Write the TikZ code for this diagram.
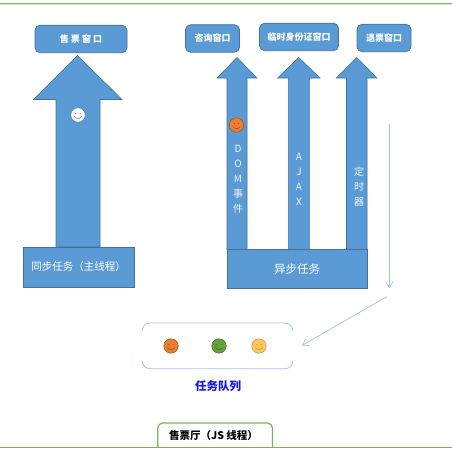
\documentclass[tikz,border=0pt]{standalone}
\usepackage{fontspec}
\setmainfont{Noto Sans CJK SC}
\usepackage{xcolor}
\usetikzlibrary{arrows.meta,positioning,calc}
\definecolor{accent}{RGB}{91,155,213}
\definecolor{accentdk}{RGB}{65,113,156}
\definecolor{linelt}{RGB}{157,195,230}
\definecolor{hallgreen}{RGB}{125,178,90}
\definecolor{hallgreenlt}{RGB}{214,232,200}
\definecolor{facered}{RGB}{237,125,49}
\definecolor{facegreen}{RGB}{102,160,60}
\definecolor{faceyel}{RGB}{255,200,90}
\definecolor{queueblue}{RGB}{20,20,240}
\tikzset{
  win/.style={draw=accentdk,fill=accent,rounded corners=5pt,align=center,text=white,
              font=\fontsize{9}{9}\selectfont\bfseries,inner sep=0,line width=.7pt},
  taskbox/.style={draw=accentdk,fill=accent,align=center,text=white,inner sep=0,line width=.8pt},
  blockarr/.style={draw=accentdk,fill=accent,line width=.6pt,line join=miter},
  vlabel/.style={align=center,text=white!90!accent,inner sep=0,
                 font=\fontsize{10}{15}\selectfont},
  thinarr/.style={-{Straight Barb[length=2mm,width=2.6mm]},draw=linelt,line width=.7pt},
  queueline/.style={draw=linelt,line width=.7pt},
  hallline/.style={draw=hallgreen,line width=1.2pt},
}
% name, x, y, fill, outline and features
\newcommand{\smiley}[5]{
  \node[circle,draw=#5,fill=#4,minimum size=14.5pt,inner sep=0,line width=.4pt] (#1) at (#2,#3) {};
  \fill[#5] ($(#1)+(-2.2,-1.6)$) circle (.6) ($(#1)+(2.2,-1.6)$) circle (.6);
  \draw[#5,line width=.4pt] ($(#1)+(-3.8,1.4)$) .. controls ($(#1)+(-1.5,4.4)$) and ($(#1)+(1.5,4.4)$) .. ($(#1)+(3.8,1.4)$);
}
\begin{document}
\begin{tikzpicture}[x=1pt,y=-1pt]
  \useasboundingbox (0,0) rectangle (452,452);

  % ---------------- hall lines ----------------
  \draw[draw=hallgreenlt,line width=1pt] (0,5) -- (452,5);
  \draw[hallline] (0,3.8) -- (452,3.8);

  % ---------------- block arrows ----------------
  \foreach \tx/\ty/\hl/\hr/\hy/\sl/\sr/\by in {
    77.5/55.5/33.5/122/99.5/56/100/247,
    237/57.5/217/257/78/227/247/249.5,
    298.7/57.5/277.7/320/78/288.3/309.3/249.5,
    356.7/57.5/336.3/377/78/346.5/367/249.5}
    \draw[blockarr] (\tx,\ty) -- (\hr,\hy) -- (\sr,\hy) -- (\sr,\by)
      -- (\sl,\by) -- (\sl,\hy) -- (\hl,\hy) -- cycle;

  % ---------------- windows ----------------
  \node[win,minimum width=92pt,minimum height=27.5pt] (ticketwin) at (81,39) {售 票 窗 口};
  \node[win,minimum width=54pt,minimum height=27.5pt] (askwin) at (212.5,38.5) {咨询窗口};
  \node[win,minimum width=79pt,minimum height=27.5pt] (idwin) at (299,37) {临时身份证窗口};
  \node[win,minimum width=54pt,minimum height=27.5pt] (refundwin) at (384,38) {退票窗口};

  % ---------------- tasks ----------------
  \node[taskbox,minimum width=111pt,minimum height=40pt,font=\fontsize{10.5}{10.5}\selectfont] (synctask) at (78.5,267) {同步任务（主线程）};
  \node[taskbox,minimum width=140pt,minimum height=39.5pt,font=\fontsize{11.5}{11.5}\selectfont] (asynctask) at (297,269) {异步任务};

  \node[vlabel,anchor=north] (domlbl) at (238,145) {D\\O\\M\\事\\件};
  \node[vlabel,anchor=north] (ajaxlbl) at (299,153) {A\\J\\A\\X};
  \node[vlabel,anchor=north] (timerlbl) at (359,167) {定\\时\\器};

  \smiley{mainface}{78}{115}{white}{accentdk}
  \smiley{domface}{236.5}{125}{facered}{facered!60!black}

  % ---------------- queue ----------------
  \draw[queueline,rounded corners=8pt] (142,331) -- (142,323) -- (293,323) -- (293,331);
  \draw[queueline,rounded corners=8pt] (142,361) -- (142,368.7) -- (293,368.7) -- (293,361);
  \smiley{qface1}{171}{346}{facered}{facered!60!black}
  \smiley{qface2}{219}{346}{facegreen}{facegreen!60!black}
  \smiley{qface3}{259}{346}{faceyel}{faceyel!70!black}
  \node[font=\fontsize{11.5}{11.5}\selectfont\bfseries,text=queueblue,inner sep=0] (queuelbl) at (218,386) {任务队列};

  \coordinate (downstart) at (389.3,124);
  \coordinate (downend) at (389.3,288);
  \coordinate (diagstart) at (386.7,296.7);
  \coordinate (diagend) at (302,345.5);
  \draw[thinarr] (downstart) -- (downend);
  \draw[thinarr] (diagstart) -- (diagend);

  % ---------------- hall ----------------
  \draw[hallline,fill=white,rounded corners=5pt] (157.8,447.7) -- (157.8,423) -- (272.5,423) -- (272.5,447.7);
  \node[font=\fontsize{10.5}{10.5}\selectfont\bfseries,inner sep=0] (halllbl) at (213.5,436) {售票厅（JS 线程）};
  \draw[hallline] (0,447.7) -- (452,447.7);
\end{tikzpicture}
\end{document}
